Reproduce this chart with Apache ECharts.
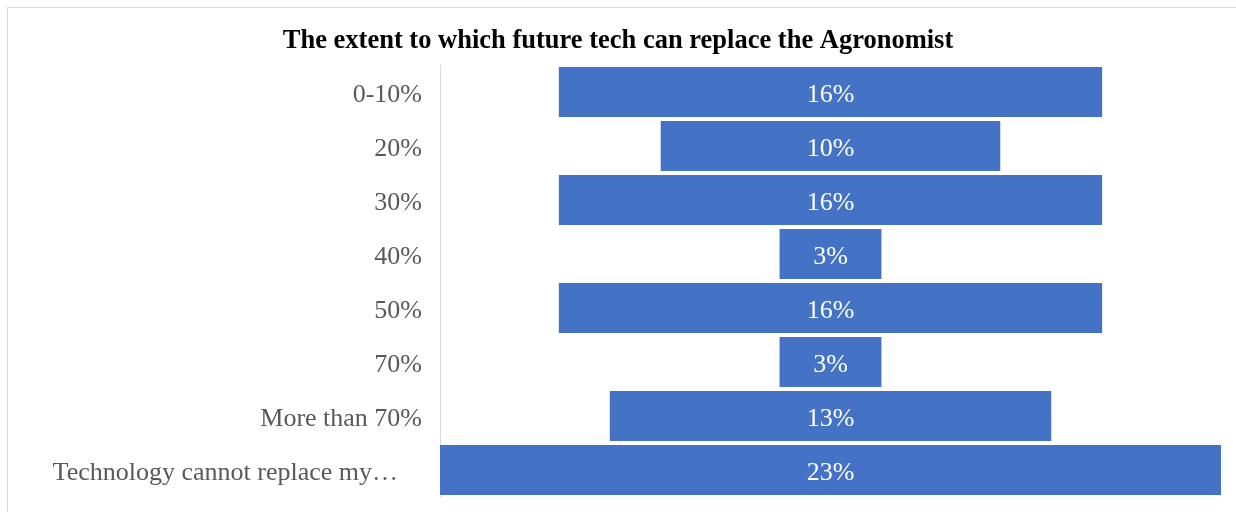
<!DOCTYPE html>
<html>
<head>
<meta charset="utf-8">
<script src="https://cdn.jsdelivr.net/npm/echarts@6/dist/echarts.min.js"></script>
<style>
  html, body { margin: 0; padding: 0; background: #fff; }
  #chart { width: 1236px; height: 512px; }
</style>
</head>
<body>
<div id="chart"></div>
<script>
// categories top to bottom, share of respondents (%)
var categories = ["0-10%", "20%", "30%", "40%", "50%", "70%", "More than 70%", "Technology cannot replace my…"];
var shares = [16, 10, 16, 3, 16, 3, 13, 23];
var maxShare = 23;

// transparent padding so bars sit centred (funnel look)
var padding = shares.map(function (v) { return (maxShare - v) / 2; });

var chart = echarts.init(document.getElementById("chart"));
var option = {
    backgroundColor: "#fff",
    animation: false,
    title: {
        text: "The extent to which future tech can replace the Agronomist",
        left: "center",
        top: 23,
        textStyle: { fontFamily: "Liberation Serif", fontSize: 26.5, fontWeight: "bold", color: "#000" }
    },
    graphic: [
        { type: "line", shape: { x1: 7, y1: 7.5, x2: 1236, y2: 7.5 }, style: { stroke: "#d9d9d9", lineWidth: 1 } },
        { type: "line", shape: { x1: 7.5, y1: 7, x2: 7.5, y2: 512 }, style: { stroke: "#d9d9d9", lineWidth: 1 } }
    ],
    grid: { left: 440, right: 15, top: 65, bottom: 15 },
    xAxis: { type: "value", min: 0, max: maxShare, show: false },
    yAxis: {
        type: "category",
        inverse: true,
        data: categories,
        axisLine: { show: true, lineStyle: { color: "#d9d9d9", width: 1 } },
        axisTick: { show: false },
        axisLabel: {
            margin: 18,
            fontFamily: "Liberation Serif",
            fontSize: 26,
            color: "#595959",
            padding: [7, 0, 0, 0],
            formatter: function (v, i) {
                return i === categories.length - 1 ? "{t|" + v + "}" : v;
            },
            rich: {
                t: { fontFamily: "Liberation Serif", fontSize: 26, color: "#595959", padding: [0, 24, 0, 0] }
            }
        }
    },
    series: [
        {
            type: "bar",
            stack: "f",
            data: padding,
            itemStyle: { color: "transparent" },
            silent: true,
            barWidth: 50
        },
        {
            type: "bar",
            stack: "f",
            data: shares,
            barWidth: 50,
            itemStyle: { color: "#4472C4" },
            label: {
                show: true,
                position: "inside",
                offset: [0, 3],
                formatter: "{c}%",
                fontFamily: "Liberation Serif",
                fontSize: 26,
                color: "#fff"
            }
        }
    ]
};
chart.setOption(option);
</script>
</body>
</html>
